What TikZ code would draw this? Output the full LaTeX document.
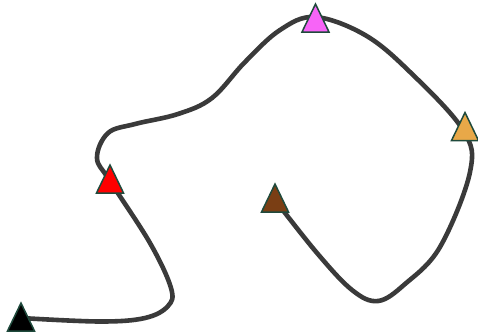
\documentclass[tikz,border=0pt]{standalone}
\begin{document}
\begin{tikzpicture}[x=1pt,y=-1pt,
  curve/.style={line width=4.6pt,draw=curvegray,line cap=round,line join=round},
  tri/.style={draw=triedge,line width=1.5pt,line join=miter}]
\definecolor{curvegray}{HTML}{3A3A3A}
\definecolor{triedge}{HTML}{1F4A3C}
\definecolor{mag}{HTML}{F764F7}
\definecolor{orng}{HTML}{E8A848}
\definecolor{brwn}{HTML}{7A3E14}
\useasboundingbox (0,0) rectangle (478,335);
\coordinate (pk) at (21,317);
\coordinate (pr) at (110,179);
\coordinate (pm) at (315.5,18);
\coordinate (po) at (465,126.5);
\coordinate (pb) at (275,198);
\draw[curve] plot[smooth,tension=0.6] coordinates {
 (21,318) (100,321.5) (145,318) (168,306) (171,288)
 (150,243) (110,181) (97,158) (108,133) (135,124) (178,114)
 (212,98) (245,62) (280,30) (315,17)
 (365,35) (410,72) (463,130) (470,172) (440,247)
 (405,284) (378,301) (352,290) (317,253) (275,200)};
\foreach \p/\c in {pk/black,pr/red,pm/mag,po/orng,pb/brwn}{
  \draw[tri,fill=\c] ([shift={(0,-14)}]\p) -- ([shift={(13.5,14)}]\p) -- ([shift={(-13.5,14)}]\p) -- cycle;
}
\end{tikzpicture}
\end{document}
